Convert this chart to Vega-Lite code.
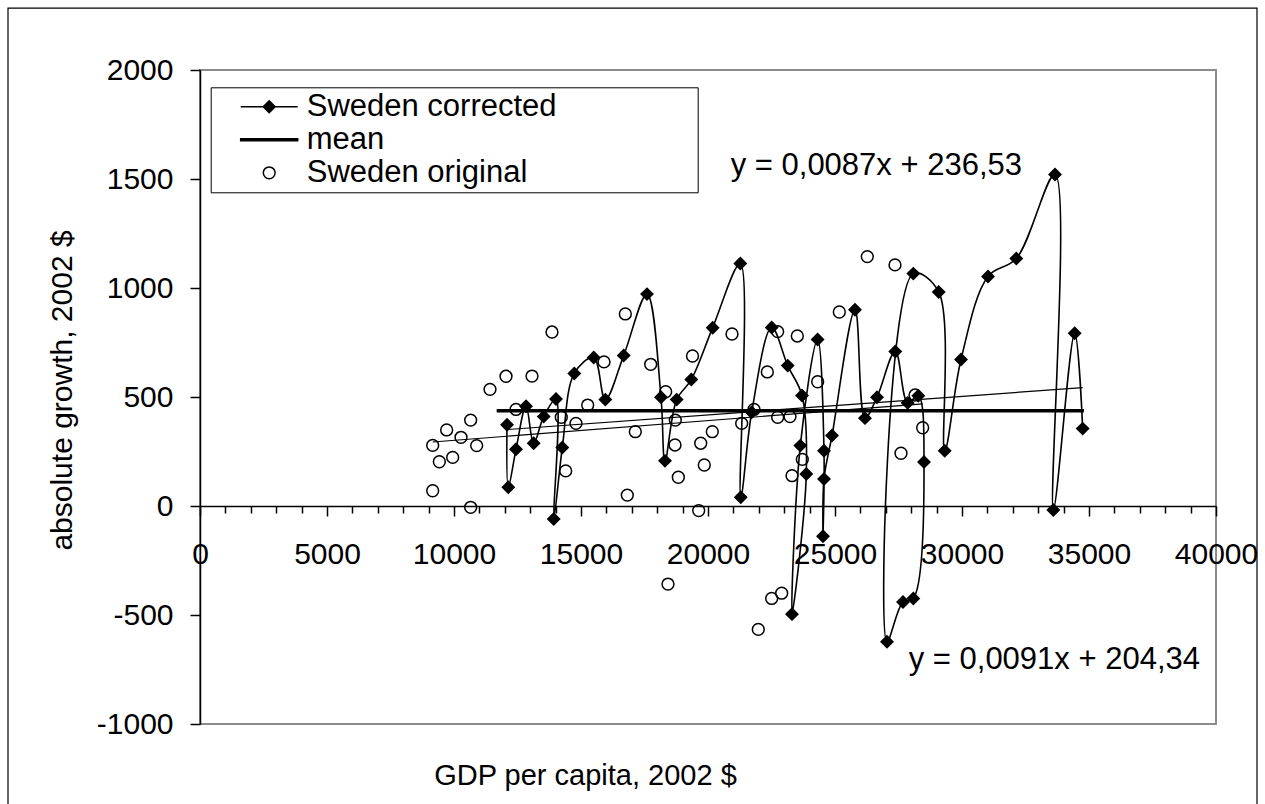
{
  "$schema": "https://vega.github.io/schema/vega-lite/v6.json",
  "width": 1016,
  "height": 654,
  "autosize": {"type": "none"},
  "padding": {"left": 200, "top": 70, "right": 49, "bottom": 80},
  "background": "white",
  "datasets": {
    "points": [
      {"series": "Sweden corrected", "i": 1, "gdp": 12087, "growth": 373},
      {"series": "Sweden corrected", "i": 2, "gdp": 12138, "growth": 86},
      {"series": "Sweden corrected", "i": 3, "gdp": 12441, "growth": 260},
      {"series": "Sweden corrected", "i": 4, "gdp": 12835, "growth": 458},
      {"series": "Sweden corrected", "i": 5, "gdp": 13137, "growth": 288},
      {"series": "Sweden corrected", "i": 6, "gdp": 13531, "growth": 410},
      {"series": "Sweden corrected", "i": 7, "gdp": 14016, "growth": 491},
      {"series": "Sweden corrected", "i": 8, "gdp": 13925, "growth": -60},
      {"series": "Sweden corrected", "i": 9, "gdp": 14264, "growth": 268},
      {"series": "Sweden corrected", "i": 10, "gdp": 14736, "growth": 608},
      {"series": "Sweden corrected", "i": 11, "gdp": 15500, "growth": 681},
      {"series": "Sweden corrected", "i": 12, "gdp": 15957, "growth": 488},
      {"series": "Sweden corrected", "i": 13, "gdp": 16681, "growth": 690},
      {"series": "Sweden corrected", "i": 14, "gdp": 17598, "growth": 972},
      {"series": "Sweden corrected", "i": 15, "gdp": 18150, "growth": 499},
      {"series": "Sweden corrected", "i": 16, "gdp": 18307, "growth": 207},
      {"series": "Sweden corrected", "i": 17, "gdp": 18767, "growth": 488},
      {"series": "Sweden corrected", "i": 18, "gdp": 19343, "growth": 580},
      {"series": "Sweden corrected", "i": 19, "gdp": 20184, "growth": 818},
      {"series": "Sweden corrected", "i": 20, "gdp": 21272, "growth": 1112},
      {"series": "Sweden corrected", "i": 21, "gdp": 21290, "growth": 40},
      {"series": "Sweden corrected", "i": 22, "gdp": 21720, "growth": 430},
      {"series": "Sweden corrected", "i": 23, "gdp": 22508, "growth": 819},
      {"series": "Sweden corrected", "i": 24, "gdp": 23138, "growth": 644},
      {"series": "Sweden corrected", "i": 25, "gdp": 23701, "growth": 507},
      {"series": "Sweden corrected", "i": 26, "gdp": 23870, "growth": 147},
      {"series": "Sweden corrected", "i": 27, "gdp": 23307, "growth": -496},
      {"series": "Sweden corrected", "i": 28, "gdp": 23634, "growth": 277},
      {"series": "Sweden corrected", "i": 29, "gdp": 24315, "growth": 764},
      {"series": "Sweden corrected", "i": 30, "gdp": 24567, "growth": 253},
      {"series": "Sweden corrected", "i": 31, "gdp": 24528, "growth": -139},
      {"series": "Sweden corrected", "i": 32, "gdp": 24567, "growth": 124},
      {"series": "Sweden corrected", "i": 33, "gdp": 24882, "growth": 323},
      {"series": "Sweden corrected", "i": 34, "gdp": 25787, "growth": 900},
      {"series": "Sweden corrected", "i": 35, "gdp": 26181, "growth": 403},
      {"series": "Sweden corrected", "i": 36, "gdp": 26654, "growth": 499},
      {"series": "Sweden corrected", "i": 37, "gdp": 27374, "growth": 709},
      {"series": "Sweden corrected", "i": 38, "gdp": 27861, "growth": 473},
      {"series": "Sweden corrected", "i": 39, "gdp": 28280, "growth": 506},
      {"series": "Sweden corrected", "i": 40, "gdp": 28504, "growth": 202},
      {"series": "Sweden corrected", "i": 41, "gdp": 28083, "growth": -424},
      {"series": "Sweden corrected", "i": 42, "gdp": 27677, "growth": -440},
      {"series": "Sweden corrected", "i": 43, "gdp": 27047, "growth": -623},
      {"series": "Sweden corrected", "i": 44, "gdp": 28083, "growth": 1066},
      {"series": "Sweden corrected", "i": 45, "gdp": 29083, "growth": 982},
      {"series": "Sweden corrected", "i": 46, "gdp": 29319, "growth": 253},
      {"series": "Sweden corrected", "i": 47, "gdp": 29961, "growth": 672},
      {"series": "Sweden corrected", "i": 48, "gdp": 31024, "growth": 1053},
      {"series": "Sweden corrected", "i": 49, "gdp": 32138, "growth": 1135},
      {"series": "Sweden corrected", "i": 50, "gdp": 33661, "growth": 1521},
      {"series": "Sweden corrected", "i": 51, "gdp": 33596, "growth": -18},
      {"series": "Sweden corrected", "i": 52, "gdp": 34436, "growth": 792},
      {"series": "Sweden corrected", "i": 53, "gdp": 34751, "growth": 355},
      {"series": "Sweden original", "gdp": 9161, "growth": 278},
      {"series": "Sweden original", "gdp": 9423, "growth": 203},
      {"series": "Sweden original", "gdp": 9711, "growth": 349},
      {"series": "Sweden original", "gdp": 9948, "growth": 223},
      {"series": "Sweden original", "gdp": 10276, "growth": 315},
      {"series": "Sweden original", "gdp": 10656, "growth": 394},
      {"series": "Sweden original", "gdp": 10892, "growth": 277},
      {"series": "Sweden original", "gdp": 9161, "growth": 70},
      {"series": "Sweden original", "gdp": 10656, "growth": -6},
      {"series": "Sweden original", "gdp": 11417, "growth": 535},
      {"series": "Sweden original", "gdp": 12047, "growth": 595},
      {"series": "Sweden original", "gdp": 12441, "growth": 443},
      {"series": "Sweden original", "gdp": 13071, "growth": 596},
      {"series": "Sweden original", "gdp": 13858, "growth": 798},
      {"series": "Sweden original", "gdp": 14224, "growth": 407},
      {"series": "Sweden original", "gdp": 14397, "growth": 161},
      {"series": "Sweden original", "gdp": 14803, "growth": 379},
      {"series": "Sweden original", "gdp": 15264, "growth": 463},
      {"series": "Sweden original", "gdp": 15906, "growth": 661},
      {"series": "Sweden original", "gdp": 16745, "growth": 881},
      {"series": "Sweden original", "gdp": 16823, "growth": 50},
      {"series": "Sweden original", "gdp": 17138, "growth": 341},
      {"series": "Sweden original", "gdp": 17744, "growth": 650},
      {"series": "Sweden original", "gdp": 18334, "growth": 524},
      {"series": "Sweden original", "gdp": 18701, "growth": 280},
      {"series": "Sweden original", "gdp": 18831, "growth": 132},
      {"series": "Sweden original", "gdp": 18713, "growth": 394},
      {"series": "Sweden original", "gdp": 19390, "growth": 688},
      {"series": "Sweden original", "gdp": 19713, "growth": 288},
      {"series": "Sweden original", "gdp": 19854, "growth": 188},
      {"series": "Sweden original", "gdp": 20169, "growth": 341},
      {"series": "Sweden original", "gdp": 19634, "growth": -21},
      {"series": "Sweden original", "gdp": 20945, "growth": 789},
      {"series": "Sweden original", "gdp": 21326, "growth": 379},
      {"series": "Sweden original", "gdp": 21811, "growth": 443},
      {"series": "Sweden original", "gdp": 22335, "growth": 615},
      {"series": "Sweden original", "gdp": 22743, "growth": 407},
      {"series": "Sweden original", "gdp": 22743, "growth": 800},
      {"series": "Sweden original", "gdp": 23228, "growth": 410},
      {"series": "Sweden original", "gdp": 23516, "growth": 780},
      {"series": "Sweden original", "gdp": 23713, "growth": 214},
      {"series": "Sweden original", "gdp": 23307, "growth": 139},
      {"series": "Sweden original", "gdp": 24318, "growth": 570},
      {"series": "Sweden original", "gdp": 25170, "growth": 890},
      {"series": "Sweden original", "gdp": 26272, "growth": 1144},
      {"series": "Sweden original", "gdp": 27362, "growth": 1106},
      {"series": "Sweden original", "gdp": 28150, "growth": 509},
      {"series": "Sweden original", "gdp": 28451, "growth": 359},
      {"series": "Sweden original", "gdp": 27598, "growth": 242},
      {"series": "Sweden original", "gdp": 22507, "growth": -424},
      {"series": "Sweden original", "gdp": 22901, "growth": -400},
      {"series": "Sweden original", "gdp": 21980, "growth": -566},
      {"series": "Sweden original", "gdp": 18425, "growth": -358}
    ],
    "mean": [
      {"gdp": 11680, "growth": 437},
      {"gdp": 34800, "growth": 437}
    ]
  },
  "config": {
    "font": "Liberation Sans",
    "view": {"stroke": "#8c8c8c", "strokeWidth": 2},
    "axis": {
      "grid": false,
      "labelFont": "Liberation Sans",
      "labelFontSize": 30,
      "labelColor": "black",
      "labelOverlap": false,
      "titleFont": "Liberation Sans",
      "titleFontSize": 30,
      "titleFontWeight": "normal",
      "titleColor": "black",
      "domainColor": "black",
      "domainWidth": 1.5,
      "tickColor": "black",
      "tickWidth": 1.5
    },
    "axisX": {"labelOverlap": false, "labelFlush": false}
  },
  "resolve": {"axis": {"x": "independent", "y": "independent"}},
  "layer": [
    {
      "data": {"values": [{}]},
      "mark": {"type": "rect", "filled": false, "stroke": "black", "strokeWidth": 1.2, "clip": false},
      "encoding": {
        "x": {"datum": -7559, "type": "quantitative", "scale": {"domain": [0, 40000], "nice": false, "zero": false}, "axis": null},
        "x2": {"datum": 41614},
        "y": {"datum": 2284, "type": "quantitative", "scale": {"domain": [-1000, 2000], "nice": false, "zero": false}, "axis": null},
        "y2": {"datum": -1400}
      }
    },
    {
      "data": {"values": [{}]},
      "mark": {"type": "text", "align": "right", "baseline": "middle", "fontSize": 31, "font": "Liberation Sans", "color": "black"},
      "encoding": {
        "x": {"datum": 32362, "type": "quantitative", "scale": {"domain": [0, 40000], "nice": false, "zero": false}, "axis": null},
        "y": {"datum": 1560, "type": "quantitative", "scale": {"domain": [-1000, 2000], "nice": false, "zero": false}, "axis": null},
        "text": {"value": "y = 0,0087x + 236,53"}
      }
    },
    {
      "data": {"values": [{}]},
      "mark": {"type": "text", "align": "right", "baseline": "middle", "fontSize": 31, "font": "Liberation Sans", "color": "black"},
      "encoding": {
        "x": {"datum": 39370, "type": "quantitative", "scale": {"domain": [0, 40000], "nice": false, "zero": false}, "axis": null},
        "y": {"datum": -706, "type": "quantitative", "scale": {"domain": [-1000, 2000], "nice": false, "zero": false}, "axis": null},
        "text": {"value": "y = 0,0091x + 204,34"}
      }
    },
    {
      "data": {"name": "mean"},
      "mark": {"type": "line", "stroke": "black", "strokeWidth": 3.5},
      "encoding": {
        "x": {"field": "gdp", "type": "quantitative", "scale": {"domain": [0, 40000], "nice": false, "zero": false}, "axis": null},
        "y": {"field": "growth", "type": "quantitative", "scale": {"domain": [-1000, 2000], "nice": false, "zero": false}, "axis": null}
      }
    },
    {
      "data": {"name": "points"},
      "transform": [{"regression": "growth", "on": "gdp", "groupby": ["series"]}],
      "mark": {"type": "line", "stroke": "black", "strokeWidth": 1.2},
      "encoding": {
        "x": {"field": "gdp", "type": "quantitative", "scale": {"domain": [0, 40000], "nice": false, "zero": false}, "axis": null},
        "y": {"field": "growth", "type": "quantitative", "scale": {"domain": [-1000, 2000], "nice": false, "zero": false}, "axis": null},
        "detail": {"field": "series", "type": "nominal"}
      }
    },
    {
      "data": {"name": "points"},
      "transform": [{"filter": "datum.series === 'Sweden corrected'"}],
      "mark": {"type": "line", "stroke": "black", "strokeWidth": 1.6, "interpolate": "catmull-rom"},
      "encoding": {
        "x": {"field": "gdp", "type": "quantitative", "scale": {"domain": [0, 40000], "nice": false, "zero": false}, "axis": null},
        "y": {"field": "growth", "type": "quantitative", "scale": {"domain": [-1000, 2000], "nice": false, "zero": false}, "axis": null},
        "order": {"field": "i", "type": "quantitative"}
      }
    },
    {
      "data": {"name": "points"},
      "transform": [{"filter": "datum.series === 'Sweden corrected'"}],
      "mark": {"type": "point", "shape": "diamond", "filled": true, "fill": "black", "stroke": "black", "strokeWidth": 1.5, "size": 140, "opacity": 1},
      "encoding": {
        "x": {"field": "gdp", "type": "quantitative", "scale": {"domain": [0, 40000], "nice": false, "zero": false}, "axis": null},
        "y": {"field": "growth", "type": "quantitative", "scale": {"domain": [-1000, 2000], "nice": false, "zero": false}, "axis": null}
      }
    },
    {
      "data": {"name": "points"},
      "transform": [{"filter": "datum.series === 'Sweden original'"}],
      "mark": {"type": "point", "filled": true, "stroke": "black", "strokeWidth": 1.5, "size": 140, "opacity": 1},
      "encoding": {
        "x": {
          "field": "gdp", "type": "quantitative",
          "scale": {"domain": [0, 40000], "nice": false, "zero": false},
          "axis": {
            "orient": "bottom",
            "values": [0, 1000, 2000, 3000, 4000, 5000, 6000, 7000, 8000, 9000, 10000, 11000, 12000, 13000, 14000, 15000, 16000, 17000, 18000, 19000, 20000, 21000, 22000, 23000, 24000, 25000, 26000, 27000, 28000, 29000, 30000, 31000, 32000, 33000, 34000, 35000, 36000, 37000, 38000, 39000, 40000],
            "labelExpr": "datum.value % 5000 === 0 ? '' + datum.value : ''",
            "tickSize": {"condition": {"test": "datum.value % 5000 === 0", "value": 10}, "value": 7},
            "offset": -218,
            "labelPadding": 23,
            "labelFlush": false,
            "labelOverlap": false,
            "title": "GDP per capita, 2002 $",
            "titleFontSize": 29,
            "titleX": 385,
            "titleY": 269,
            "titleBaseline": "middle",
            "titleAlign": "center"
          }
        },
        "y": {
          "field": "growth", "type": "quantitative",
          "scale": {"domain": [-1000, 2000], "nice": false, "zero": false},
          "axis": {
            "orient": "left",
            "values": [-1000, -500, 0, 500, 1000, 1500, 2000],
            "labelExpr": "'' + datum.value",
            "tickSize": 10,
            "labelPadding": 17,
            "title": "absolute growth, 2002 $",
            "titleX": -138,
            "titleY": 320,
            "titleAngle": 270,
            "titleBaseline": "middle",
            "titleAlign": "center"
          }
        },
        "shape": {
          "field": "series", "type": "nominal",
          "scale": {
            "domain": ["Sweden corrected", "mean", "Sweden original"],
            "range": ["M-4.82,0L4.82,0M0,-1.01L1.01,0L0,1.01L-1.01,0Z", "M-4.82,-0.17L4.82,-0.17L4.82,0.17L-4.82,0.17Z", "circle"]
          },
          "legend": {
            "title": " ",
            "titleOrient": "right",
            "titlePadding": 137,
            "titleFontSize": 2,
            "orient": "none",
            "legendX": 10.7,
            "legendY": 17.3,
            "direction": "vertical",
            "padding": 4,
            "strokeColor": "black",
            "fillColor": "white",
            "cornerRadius": 0,
            "labelFont": "Liberation Sans",
            "labelFontSize": 31,
            "labelColor": "black",
            "labelLimit": 0,
            "symbolSize": 140,
            "symbolStrokeWidth": 1.5,
            "symbolOffset": 39,
            "labelOffset": 22,
            "rowPadding": 1
          }
        },
        "fill": {
          "field": "series", "type": "nominal",
          "scale": {"domain": ["Sweden corrected", "mean", "Sweden original"], "range": ["black", "black", "transparent"]},
          "legend": null
        }
      }
    }
  ]
}
